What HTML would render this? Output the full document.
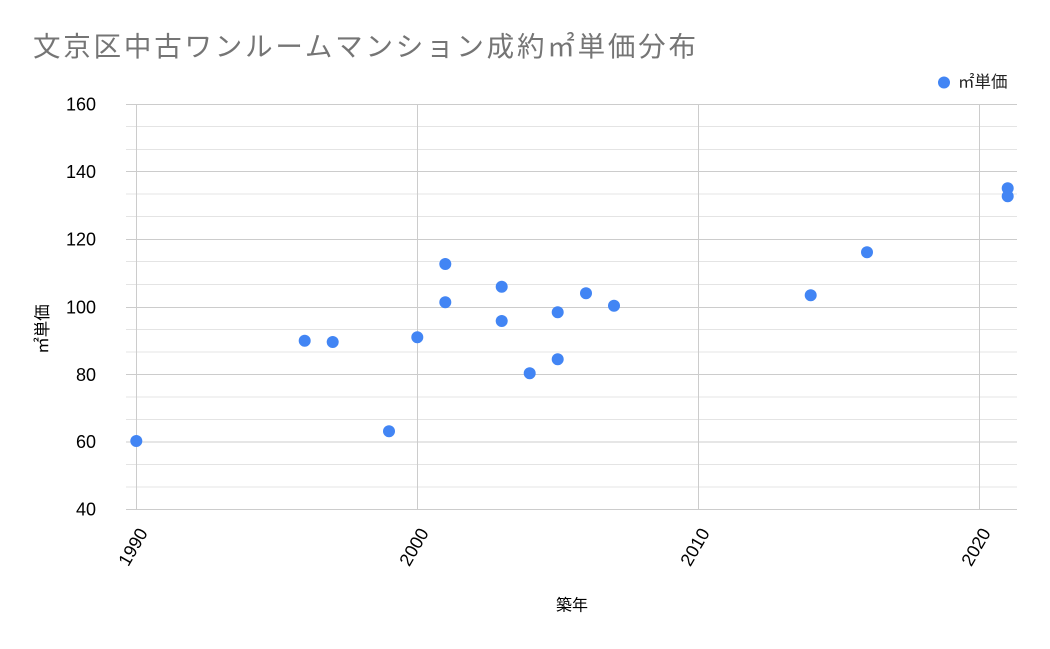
<!DOCTYPE html>
<html>
<head>
<meta charset="utf-8">
<style>
html,body{margin:0;padding:0;background:#fff;}
svg{display:block;}
</style>
</head>
<body>
<svg width="1050" height="649" viewBox="0 0 1050 649" xmlns="http://www.w3.org/2000/svg">
<rect width="1050" height="649" fill="#fff"/>
<text x="33" y="56" font-family="'Noto Sans CJK JP', 'Liberation Sans', sans-serif" font-size="27.5" letter-spacing="2.8" fill="#757575">文京区中古ワンルームマンション成約㎡単価分布</text>

<!-- minor gridlines -->
<g stroke="#e4e4e4" stroke-width="1">
<line x1="126" x2="1017" y1="126.5" y2="126.5"/>
<line x1="126" x2="1017" y1="149.5" y2="149.5"/>
<line x1="126" x2="1017" y1="194" y2="194"/>
<line x1="126" x2="1017" y1="216.5" y2="216.5"/>
<line x1="126" x2="1017" y1="261.5" y2="261.5"/>
<line x1="126" x2="1017" y1="284.5" y2="284.5"/>
<line x1="126" x2="1017" y1="329.5" y2="329.5"/>
<line x1="126" x2="1017" y1="352" y2="352"/>
<line x1="126" x2="1017" y1="397" y2="397"/>
<line x1="126" x2="1017" y1="419.5" y2="419.5"/>
<line x1="126" x2="1017" y1="464.5" y2="464.5"/>
<line x1="126" x2="1017" y1="487" y2="487"/>
</g>
<!-- major gridlines -->
<g stroke="#cccccc" stroke-width="1">
<line x1="126" x2="1017" y1="104.5" y2="104.5"/>
<line x1="126" x2="1017" y1="171.5" y2="171.5"/>
<line x1="126" x2="1017" y1="239.5" y2="239.5"/>
<line x1="126" x2="1017" y1="307.5" y2="307.5"/>
<line x1="126" x2="1017" y1="374.5" y2="374.5"/>
<line x1="126" x2="1017" y1="442" y2="442"/>
<line x1="126" x2="1017" y1="509.5" y2="509.5"/>
<line x1="136.5" x2="136.5" y1="104" y2="509"/>
<line x1="417.5" x2="417.5" y1="104" y2="509"/>
<line x1="698.5" x2="698.5" y1="104" y2="509"/>
<line x1="979.5" x2="979.5" y1="104" y2="509"/>
</g>

<!-- y tick labels -->
<g font-family="'Liberation Sans', sans-serif" font-size="18" fill="#000" text-anchor="end" dominant-baseline="central">
<text x="96" y="104.5">160</text>
<text x="96" y="172">140</text>
<text x="96" y="239.5">120</text>
<text x="96" y="307.5">100</text>
<text x="96" y="375">80</text>
<text x="96" y="442">60</text>
<text x="96" y="509.5">40</text>
</g>

<!-- x tick labels -->
<g font-family="'Liberation Sans', sans-serif" font-size="18" fill="#000" text-anchor="middle" dominant-baseline="central">
<text transform="translate(133,547) rotate(-60)">1990</text>
<text transform="translate(414,547) rotate(-60)">2000</text>
<text transform="translate(695,547) rotate(-60)">2010</text>
<text transform="translate(976,547) rotate(-60)">2020</text>
</g>

<!-- axis titles -->
<text x="572" y="606" font-family="'Liberation Sans', 'Noto Sans CJK JP', sans-serif" font-size="16" fill="#000" text-anchor="middle" dominant-baseline="central">築年</text>
<text transform="translate(43,329) rotate(-90)" font-family="'Liberation Sans', 'Noto Sans CJK JP', sans-serif" font-size="16.5" fill="#000" text-anchor="middle" dominant-baseline="central">㎡単価</text>

<!-- legend -->
<circle cx="944" cy="82.5" r="6" fill="#4285f4"/>
<text x="958" y="82.5" font-family="'Liberation Sans', 'Noto Sans CJK JP', sans-serif" font-size="16.5" fill="#222" dominant-baseline="central">㎡単価</text>

<!-- points -->
<g fill="#4285f4">
<circle cx="136.3" cy="441" r="6"/>
<circle cx="304.7" cy="340.7" r="6"/>
<circle cx="332.7" cy="342" r="6"/>
<circle cx="389" cy="431.3" r="6"/>
<circle cx="417.3" cy="337.3" r="6"/>
<circle cx="445.3" cy="264" r="6"/>
<circle cx="445.3" cy="302.3" r="6"/>
<circle cx="501.7" cy="286.7" r="6"/>
<circle cx="501.7" cy="321" r="6"/>
<circle cx="529.7" cy="373.3" r="6"/>
<circle cx="557.7" cy="312.3" r="6"/>
<circle cx="557.7" cy="359.3" r="6"/>
<circle cx="586" cy="293.3" r="6"/>
<circle cx="614" cy="305.7" r="6"/>
<circle cx="810.7" cy="295.3" r="6"/>
<circle cx="867" cy="252.3" r="6"/>
<circle cx="1007.7" cy="188.3" r="6"/>
<circle cx="1007.7" cy="196.3" r="6"/>
</g>
</svg>
</body>
</html>
